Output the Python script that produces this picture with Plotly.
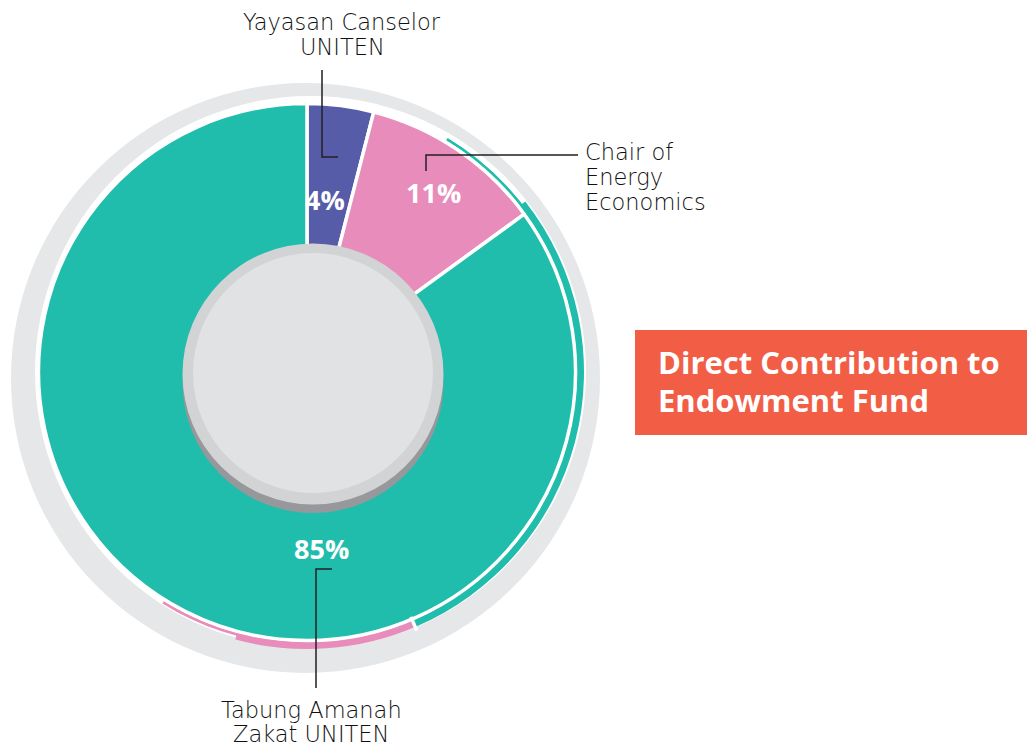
import math
import plotly.graph_objects as go

# ---- data ----
categories = ["Yayasan Canselor UNITEN", "Chair of Energy Economics", "Tabung Amanah Zakat UNITEN"]
values = [4, 11, 85]
colors = ["#575ca8", "#e78cbb", "#21bdac"]
label_lines = [["Yayasan Canselor", "UNITEN"], ["Chair of", "Energy", "Economics"], ["Tabung Amanah", "Zakat UNITEN"]]
title_lines = ["Direct Contribution to", "Endowment Fund"]

# decorative thin arcs (degrees clockwise from 12 o'clock)
arc_thin_spans = [31, 126, 55, 148]
arc_thin_colors = ["rgba(0,0,0,0)", "#21bdac", "#e78cbb", "rgba(0,0,0,0)"]
arc_thick_spans = [52, 105, 38, 165]
arc_thick_colors = ["rgba(0,0,0,0)", "#21bdac", "#e78cbb", "rgba(0,0,0,0)"]

W, H = 1027, 746
CX, CY, R = 307, 372, 268.5

def dom(cx, cy, r):
    return dict(x=[(cx - r) / W, (cx + r) / W], y=[1 - (cy + r) / H, 1 - (cy - r) / H])

fig = go.Figure()

# thin decorative ring (tapered ends)
fig.add_trace(go.Pie(values=arc_thin_spans, marker=dict(colors=arc_thin_colors, line=dict(color="white", width=0)),
                     domain=dom(CX, CY, 273), hole=270 / 273, sort=False, direction="clockwise",
                     textinfo="none", hoverinfo="skip", showlegend=False))
fig.add_trace(go.Pie(values=arc_thick_spans, marker=dict(colors=arc_thick_colors, line=dict(color="white", width=0)),
                     domain=dom(CX, CY, 277), hole=270 / 277, sort=False, direction="clockwise",
                     textinfo="none", hoverinfo="skip", showlegend=False))

# main pie
fig.add_trace(go.Pie(labels=categories, values=values, marker=dict(colors=colors, line=dict(color="white", width=3.5)),
                     domain=dom(CX, CY, R), hole=0.4, sort=False, direction="clockwise",
                     textinfo="none", hoverinfo="label+percent", showlegend=False))

# white gap between teal and pink thin arcs
gap_ang = math.radians(arc_thin_spans[0] + arc_thin_spans[1])
gx0, gy0 = CX + 266 * math.sin(gap_ang), CY - 266 * math.cos(gap_ang)
gx1, gy1 = CX + 281 * math.sin(gap_ang), CY - 281 * math.cos(gap_ang)

shapes = [
    # outer gray ring (offset disks)
    dict(type="circle", layer="below", x0=11, x1=600, y0=83, y1=673, fillcolor="#e6e7e8", line=dict(width=0)),
    dict(type="circle", layer="below", x0=35, x1=586, y0=96, y1=648, fillcolor="white", line=dict(width=0)),
    dict(type="line", layer="above", x0=gx0, y0=gy0, x1=gx1, y1=gy1, line=dict(color="white", width=3.5)),
    # center disk with shadow
    dict(type="circle", layer="above", x0=182.5, x1=443.5, y0=252, y1=513, fillcolor="#97989b", line=dict(width=0)),
    dict(type="circle", layer="above", x0=182.5, x1=443.5, y0=243.5, y1=504.5, fillcolor="#d1d3d4", line=dict(width=0)),
    dict(type="circle", layer="above", x0=193, x1=433, y0=253, y1=493, fillcolor="#e1e2e4", line=dict(width=0)),
    # leader lines
    dict(type="path", layer="above", path="M 322 70 L 322 157 L 338 157", line=dict(color="#231f20", width=1.5)),
    dict(type="path", layer="above", path="M 426 171 L 426 155 L 578 155", line=dict(color="#231f20", width=1.5)),
    dict(type="path", layer="above", path="M 332 569 L 316 569 L 316 688", line=dict(color="#231f20", width=1.5)),
    # title box
    dict(type="rect", layer="above", x0=635, x1=1027, y0=330, y1=435, fillcolor="#f15d45", line=dict(width=0)),
]

ann = []
LF = dict(family="DejaVu Sans", size=22.5, color="#111111", weight=200)
for i, line in enumerate(label_lines[0]):
    ann.append(dict(x=342, y=22 + 25 * i, text=line, xanchor="center", yanchor="middle", font=LF))
for i, line in enumerate(label_lines[1]):
    ann.append(dict(x=583, y=152 + 25 * i, text=line, xanchor="left", yanchor="middle", font=LF))
for i, line in enumerate(label_lines[2]):
    ann.append(dict(x=311, y=710 + 24 * i, text=line, xanchor="center", yanchor="middle", font=LF))

total = sum(values)
pct_pos = [(325, 199), (433, 192), (321, 548)]
for v, (px, py) in zip(values, pct_pos):
    ann.append(dict(x=px, y=py, text=f"<b>{round(v / total * 100)}%</b>", xanchor="center", yanchor="middle",
                    font=dict(family="Open Sans", size=27, color="white")))

for i, line in enumerate(title_lines):
    ann.append(dict(x=656, y=362 + 38 * i, text=f"<b>{line}</b>", xanchor="left", yanchor="middle",
                    font=dict(family="Open Sans", size=31, color="white")))

for a in ann:
    a.update(xref="x", yref="y", showarrow=False)

fig.update_layout(
    width=W, height=H, margin=dict(l=0, r=0, t=0, b=0),
    paper_bgcolor="white", plot_bgcolor="white",
    xaxis=dict(range=[0, W], visible=False, fixedrange=True),
    yaxis=dict(range=[H, 0], visible=False, fixedrange=True),
    shapes=shapes, annotations=ann,
)

fig.write_html("out.html", config={"displayModeBar": False},
               post_script="document.body.style.margin='0';document.body.style.overflow='hidden';")
